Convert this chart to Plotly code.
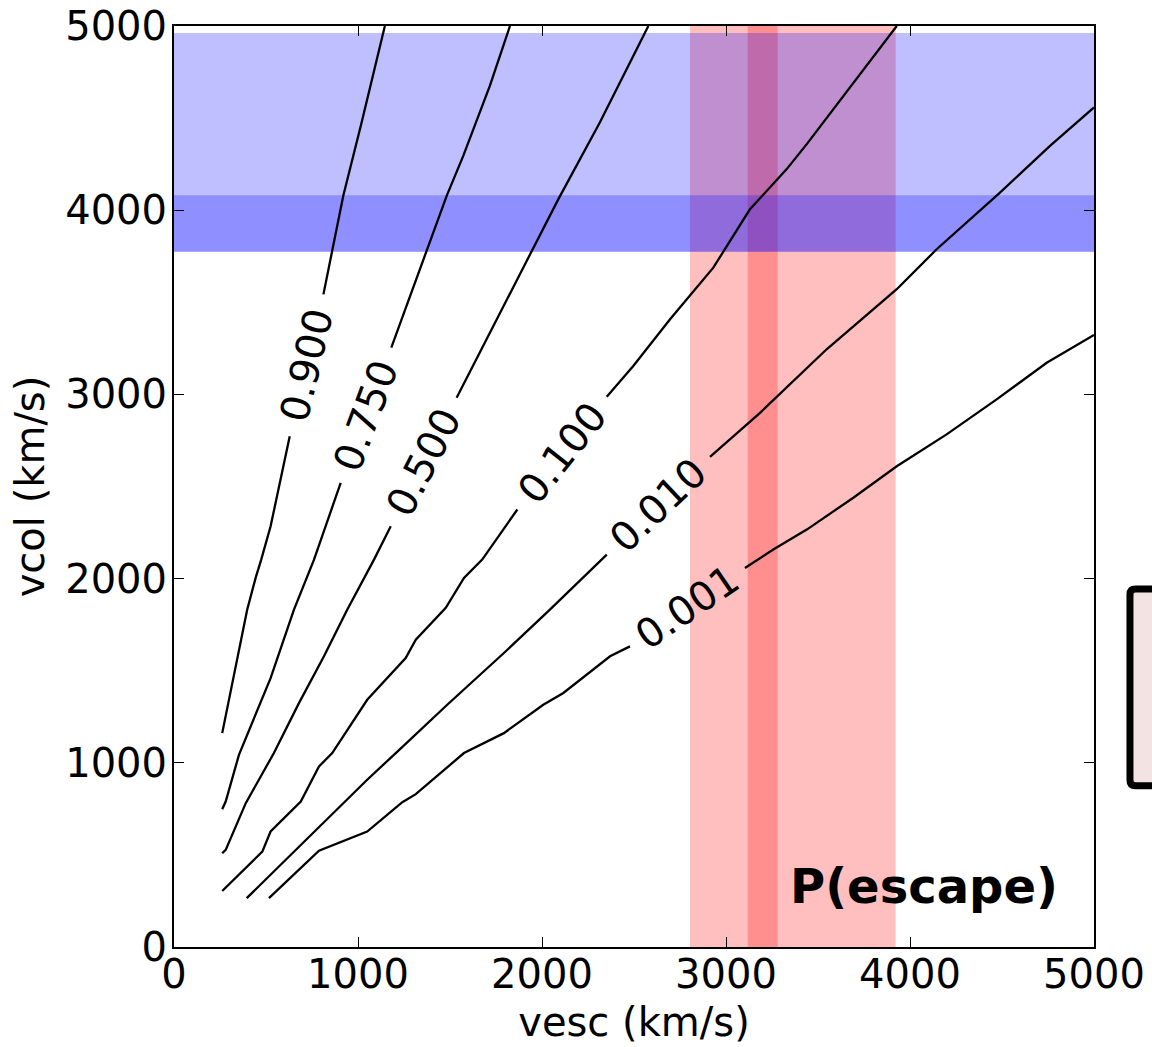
import plotly.graph_objects as go

# Escape-probability contours in the (vesc, vcol) plane
levels = ["0.001", "0.010", "0.100", "0.500", "0.750", "0.900"]

# Contour paths (km/s); None splits a path where its inline label sits
vesc_p001 = [516, 788, 1050, 1241, 1314, 1576, 1793, 2007, 2116, 2370, 2478, None,
             3103, 3257, 3439, 3692, 3928, 4199, 4471, 4743, 5000]
vcol_p001 = [265, 523, 627, 786, 830, 1053, 1161, 1315, 1379, 1578, 1632, None,
             2058, 2158, 2266, 2439, 2610, 2783, 2973, 3172, 3323]

vesc_p010 = [395, 797, 1050, 1214, 1485, 1793, 2043, 2352, None,
             2913, 3185, 3547, 3928, 4145, 4489, 4761, 5000]
vcol_p010 = [265, 663, 908, 1061, 1315, 1596, 1832, 2130, None,
             2661, 2900, 3245, 3571, 3788, 4096, 4349, 4558]

vesc_p100 = [262, 480, 525, 689, 788, 860, 1050, 1259, 1314, 1477, 1576, 1675, 1866, None,
             2352, 2496, 2696, 2931, 3130, 3330, 3440, 3692, 3928]
vcol_p100 = [304, 518, 627, 790, 980, 1053, 1342, 1569, 1668, 1841, 2004, 2103, 2375, None,
             2987, 3154, 3408, 3688, 4005, 4223, 4360, 4694, 5000]

vesc_p500 = [262, 281, 390, 543, 679, 815, 942, 1087, 1178, None,
             1536, 1793, 2089, 2315, 2578]
vcol_p500 = [509, 527, 781, 1053, 1324, 1578, 1832, 2103, 2284, None,
             2982, 3480, 4060, 4477, 5000]

vesc_p750 = [262, 281, 353, 525, 652, 761, 906, None,
             1181, 1280, 1482, 1572, 1717, 1826]
vcol_p750 = [748, 790, 1043, 1460, 1832, 2103, 2520, None,
             3254, 3526, 4078, 4295, 4676, 5000]

vesc_p900 = [262, 344, 398, 444, 474, 525, 629, None,
             812, 920, 1020, 1146]
vcol_p900 = [1161, 1560, 1832, 2005, 2103, 2284, 2773, None,
             3543, 4078, 4477, 5000]

# Observed ranges shaded on the plane (km/s)
vesc_wide = [2804, 3922]
vesc_narrow = [3118, 3281]
vcol_wide = [3775, 4962]
vcol_narrow = [3775, 4081]

paths = {
    "0.001": (vesc_p001, vcol_p001),
    "0.010": (vesc_p010, vcol_p010),
    "0.100": (vesc_p100, vcol_p100),
    "0.500": (vesc_p500, vcol_p500),
    "0.750": (vesc_p750, vcol_p750),
    "0.900": (vesc_p900, vcol_p900),
}

# Inline label placement: (vesc, vcol, angle in degrees, counter-clockwise)
label_place = {
    "0.900": (720, 3160, 76.5),
    "0.750": (1043, 2888, 69.5),
    "0.500": (1356, 2633, 62.8),
    "0.100": (2109, 2682, 51.6),
    "0.010": (2632, 2397, 43.4),
    "0.001": (2790, 1845, 34.3),
}

FONT = "DejaVu Sans"

fig = go.Figure()

for lev in levels:
    xs, ys = paths[lev]
    fig.add_trace(go.Scatter(
        x=xs, y=ys, mode="lines", connectgaps=False,
        line=dict(color="black", width=2.3), showlegend=False, hoverinfo="skip",
        name=lev,
    ))
    lx, ly, ang = label_place[lev]
    fig.add_annotation(
        x=lx, y=ly, xref="x", yref="y", text=lev, showarrow=False,
        textangle=-ang, xanchor="center", yanchor="middle",
        font=dict(family=FONT, size=40, color="black"),
    )

shapes = []
# vertical (vesc) bands
for lo, hi in (vesc_wide, vesc_narrow):
    shapes.append(dict(type="rect", xref="x", yref="y", x0=lo, x1=hi, y0=0, y1=5000,
                       fillcolor="rgba(255,0,0,0.25)", line=dict(width=0), layer="below"))
# horizontal (vcol) bands
for lo, hi in (vcol_wide, vcol_narrow):
    shapes.append(dict(type="rect", xref="x", yref="y", x0=0, x1=5000, y0=lo, y1=hi,
                       fillcolor="rgba(0,0,255,0.25)", line=dict(width=0), layer="below"))

# legend frame running off the right edge
fx0, fx1 = 1.0391, 1.25
fy0, fy1 = 0.175, 0.3887
rx, ry = 0.006, 0.006
frame_path = (
    f"M {fx1},{fy1} L {fx0 + rx},{fy1} Q {fx0},{fy1} {fx0},{fy1 - ry} "
    f"L {fx0},{fy0 + ry} Q {fx0},{fy0} {fx0 + rx},{fy0} L {fx1},{fy0} Z"
)
shapes.append(dict(type="path", xref="paper", yref="paper", path=frame_path,
                   fillcolor="#f4e3e3", line=dict(color="black", width=7)))

fig.update_layout(shapes=shapes)

fig.add_annotation(
    x=0.963, y=0.066, xref="paper", yref="paper", text="<b>P(escape)</b>",
    showarrow=False, xanchor="right", yanchor="middle",
    font=dict(family=FONT, size=48, color="black"),
)

axis_common = dict(
    range=[0, 5000], tickvals=[0, 1000, 2000, 3000, 4000, 5000],
    ticks="inside", ticklen=10, tickwidth=1, tickcolor="black",
    showline=True, linecolor="black", linewidth=2, mirror="ticks",
    showgrid=False, zeroline=False, automargin=False,
    tickfont=dict(family=FONT, size=40, color="black"),
)

fig.update_xaxes(**axis_common, ticklabelstandoff=-9,
                 title=dict(text="vesc (km/s)", font=dict(family=FONT, size=40, color="black"),
                            standoff=12))
fig.update_yaxes(**axis_common, ticklabelstandoff=-3,
                 title=dict(text="vcol (km/s)", font=dict(family=FONT, size=40, color="black"),
                            standoff=8))

fig.update_layout(
    width=1152, height=1047,
    margin=dict(l=174, r=58, t=26, b=100, pad=0),
    paper_bgcolor="white", plot_bgcolor="white",
    font=dict(family=FONT, color="black"),
    showlegend=False,
)

fig.write_html("out.html")
